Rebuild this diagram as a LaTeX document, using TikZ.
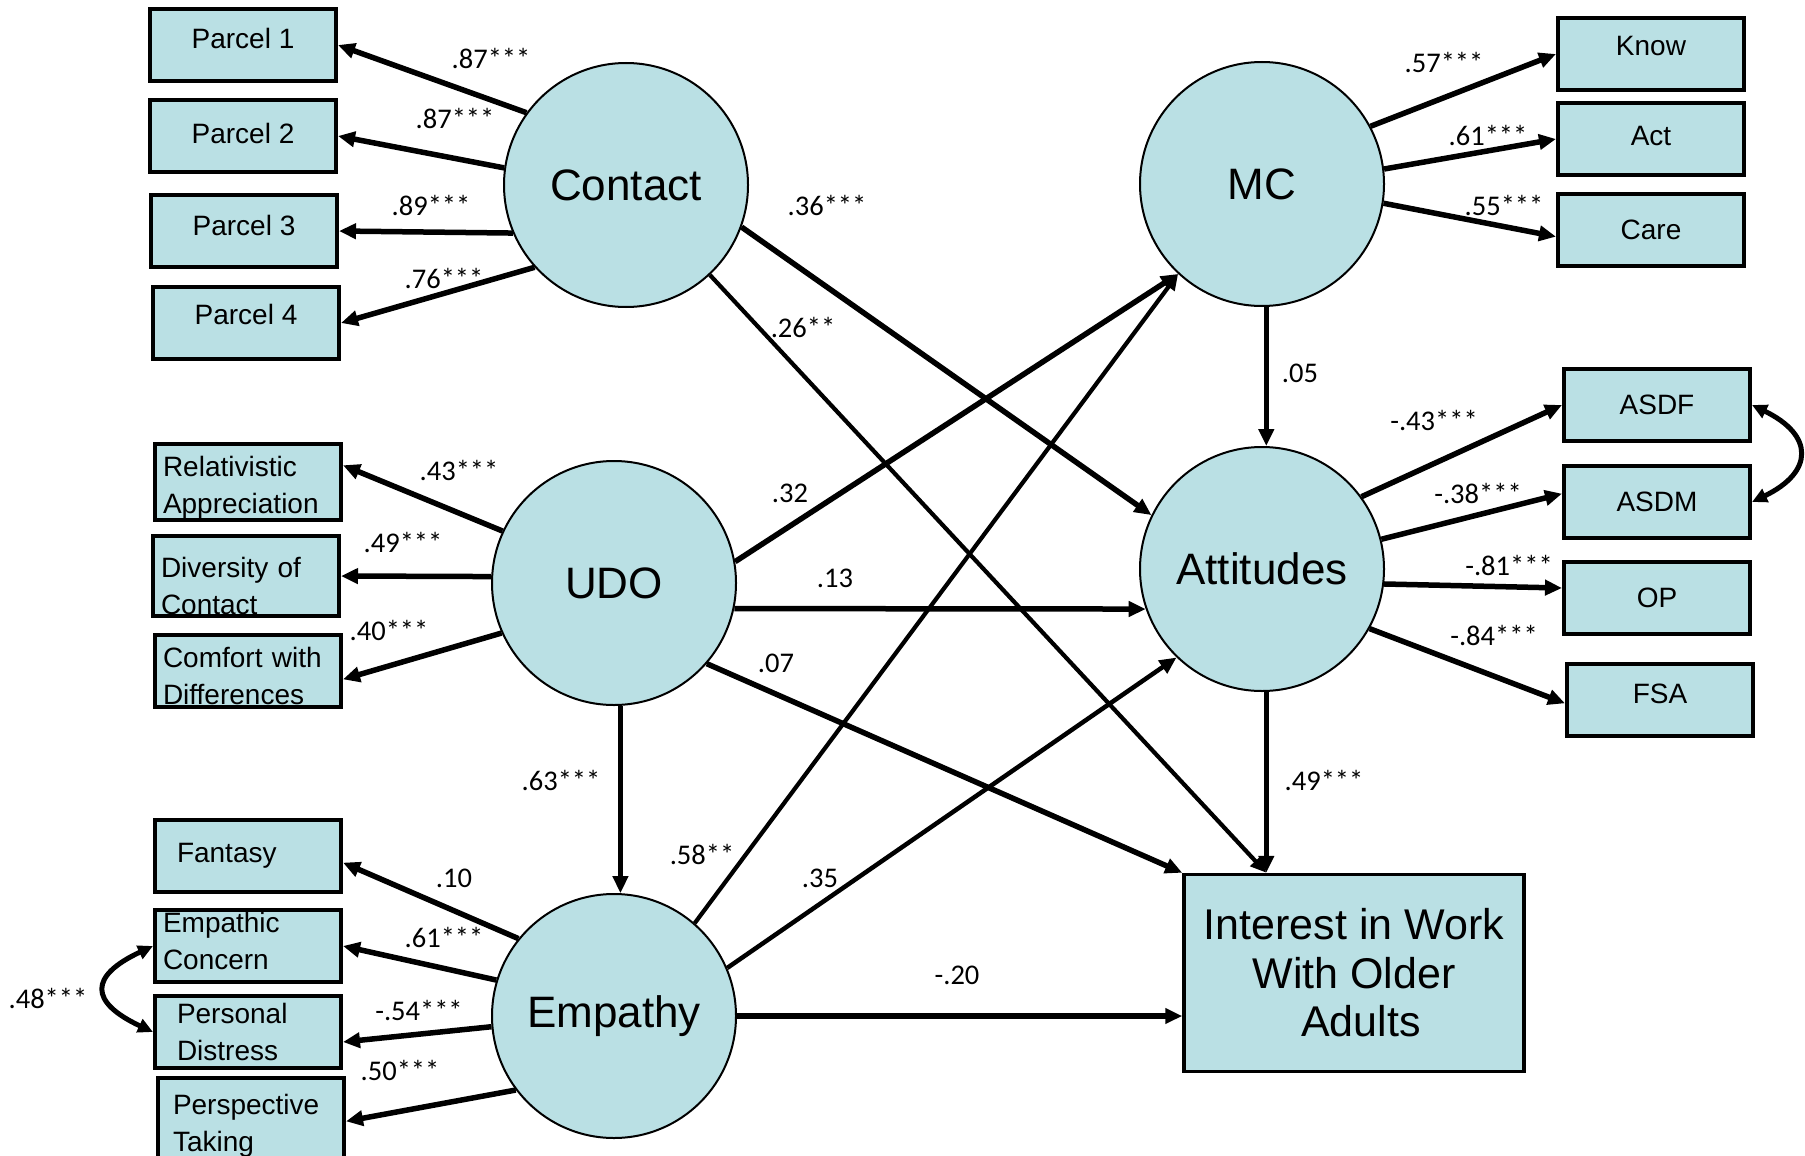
\documentclass[tikz,border=0pt]{standalone}
\usepackage{fontspec}
\setmainfont{Liberation Sans}
\newfontfamily\coeffont{Carlito}
\usetikzlibrary{arrows.meta}
\definecolor{latentblue}{RGB}{186,224,228}

\begin{document}
\begin{tikzpicture}[x=1pt,y=-1pt,
  latent/.style={circle,draw,line width=2pt,fill=latentblue,minimum size=244pt,inner sep=0pt,font=\fontsize{44}{50}\selectfont},
  indicator/.style={rectangle,draw,line width=4pt,fill=latentblue,minimum width=186pt,minimum height=72pt,font=\fontsize{28}{37}\selectfont},
  twoline/.style={indicator,align=left,text width=170pt,inner xsep=8pt,inner ysep=1pt},
  coef/.style={font=\coeffont\fontsize{28.5}{30}\selectfont,inner sep=0pt},
  loading/.style={-{Triangle[length=17pt,width=15pt]},line width=5.5pt},
  effect/.style={loading},
  weak/.style={-{Triangle[length=16pt,width=14pt]},line width=4.2pt},
  covary/.style={{Triangle[length=15pt,width=14pt]}-{Triangle[length=15pt,width=14pt]},line width=5pt}]
  \useasboundingbox (0,0) rectangle (1805,1156);
  % draw latent circles
  \node at(626,185)[latent](contact){Contact};
  \node at(1262,184)[latent](mc){MC};
  \node at(614,583)[latent](udo){UDO};
  \node at(1262,569)[latent](attitudes){Attitudes};
  \node at(614,1016)[latent](empathy){Empathy};
  % draw outcome box
  \node at(1354,973)[rectangle,draw,line width=3.5pt,fill=latentblue,minimum width=340pt,minimum height=197pt,align=center,font=\fontsize{43}{48.5}\selectfont](interest){Interest in Work\\With Older\hspace*{12pt}\\\hspace*{14pt}Adults};
  \coordinate (inttop) at (attitudes.-88 |- interest.north);
  % draw contact parcels
  \node at(243,45)[indicator,text depth=14pt](parcelone){Parcel 1};
  \node at(243,136)[indicator,text depth=6pt](parceltwo){Parcel 2};
  \node at(244,231)[indicator,text depth=12pt](parcelthree){Parcel 3};
  \node at(246,323)[indicator,text depth=18pt](parcelfour){Parcel 4};
  % draw MC boxes
  \node at(1651,54)[indicator,text depth=16pt](know){Know};
  \node at(1651,139)[indicator,text depth=6pt](act){Act};
  \node at(1651,230)[indicator](care){Care};
  % draw attitudes boxes
  \node at(1657,405)[indicator](asdf){ASDF};
  \node at(1657,502)[indicator](asdm){ASDM};
  \node at(1657,598)[indicator](op){OP};
  \node at(1660,700)[indicator,text depth=12pt](fsa){FSA};
  % draw UDO boxes
  \node at(248,482)[twoline,text height=31pt](relativistic){Relativistic\\Appreciation};
  \node at(246,576)[twoline,text height=40pt](diversity){Diversity of\\Contact};
  \node at(248,671)[twoline,text height=30pt](comfort){Comfort with\\Differences};
  % draw empathy boxes
  \node at(248,856)[twoline](fantasy){\hspace*{14pt}Fantasy};
  \node at(248,946)[twoline,text depth=47pt](concern){Empathic\\Concern};
  \node at(248,1032)[twoline](distress){\hspace*{14pt}Personal\\\hspace*{14pt}Distress};
  \node at(251,1118)[twoline,text height=35pt](perspective){\hspace*{7pt}Perspective\\\hspace*{7pt}Taking};
  % draw loadings
  \draw[loading] (contact.144) -- (parcelone.east);
  \draw[loading] (contact.172) -- (parceltwo.east);
  \draw[loading] (contact.203) -- (parcelthree.east);
  \draw[loading] (contact.222) -- (parcelfour.east);
  \draw[loading] (mc.28) -- (know.west);
  \draw[loading] (mc.7) -- (act.west);
  \draw[loading] (mc.-9) -- (care.184);
  \draw[loading] (attitudes.36) -- (asdf.west);
  \draw[loading] (attitudes.14) -- (asdm.175);
  \draw[loading] (attitudes.-7) -- (op.174);
  \draw[loading] (attitudes.-29) -- (fsa.182);
  \draw[loading] (udo.155) -- (relativistic.10);
  \draw[loading] (udo.177) -- (diversity.east);
  \draw[loading] (udo.204) -- (comfort.-5);
  \draw[loading] (empathy.141) -- (fantasy.-4);
  \draw[loading] (empathy.163) -- (concern.east);
  \draw[loading] (empathy.185) -- (distress.-6);
  \draw[loading] (empathy.217) -- (perspective.-2);
  % draw correlated errors
  \draw[covary] (asdf.east) .. controls +(62,30) and +(62,-30) .. (asdm.east);
  \draw[covary] (concern.west) .. controls +(-64,30) and +(-64,-30) .. (distress.west);
  % draw structural paths
  \draw[effect] (contact.-20) -- (attitudes.154);
  \draw[weak] (contact.-47) -- (inttop);
  \draw[effect] (udo.10) -- (mc.227);
  \draw[effect] (udo.-12) -- (attitudes.199);
  \draw[effect] (udo.-41) -- (interest.north west);
  \draw[effect,line width=4.5pt] (udo.-87) -- (empathy.87);
  \draw[weak] (empathy.49) -- (mc.227);
  \draw[effect,line width=4.5pt] (empathy.23) -- (attitudes.226);
  \draw[effect] (empathy.east) -- (empathy.east -| interest.west);
  \draw[effect,line width=4.5pt] (mc.-88) -- (attitudes.88);
  \draw[effect] (attitudes.-88) -- (inttop);
  % draw coefficients
  \node at(491,58)[coef](lparcelone){.87***};
  \node at(455,118)[coef](lparceltwo){.87***};
  \node at(431,205)[coef](lparcelthree){.89***};
  \node at(444,278)[coef](lparcelfour){.76***};
  \node at(1444,62)[coef](lknow){.57***};
  \node at(1488,135)[coef](lact){.61***};
  \node at(1504,205)[coef](lcare){.55***};
  \node at(1434,420)[coef](lasdf){-.43***};
  \node at(1478,493)[coef](lasdm){-.38***};
  \node at(1509,565)[coef](lop){-.81***};
  \node at(1494,635)[coef](lfsa){-.84***};
  \node at(459,470)[coef](lrelativistic){.43***};
  \node at(403,542)[coef](ldiversity){.49***};
  \node at(389,630)[coef](lcomfort){.40***};
  \node at(454,878)[coef](lfantasy){.10};
  \node at(444,937)[coef](lconcern){.61***};
  \node at(419,1010)[coef](ldistress){-.54***};
  \node at(400,1070)[coef](lperspective){.50***};
  \node at(48,998)[coef](lempcov){.48***};
  \node at(827,205)[coef](lcontactatt){.36***};
  \node at(803,327)[coef](lcontactint){.26**};
  \node at(790,493)[coef](ludomc){.32};
  \node at(835,578)[coef](ludoatt){.13};
  \node at(776,663)[coef](ludoint){.07};
  \node at(561,780)[coef](ludoemp){.63***};
  \node at(702,854)[coef](lempmc){.58**};
  \node at(820,878)[coef](lempatt){.35};
  \node at(957,975)[coef](lempint){-.20};
  \node at(1300,373)[coef](lmcatt){.05};
  \node at(1324,780)[coef](lattint){.49***};
\end{tikzpicture}
\end{document}
